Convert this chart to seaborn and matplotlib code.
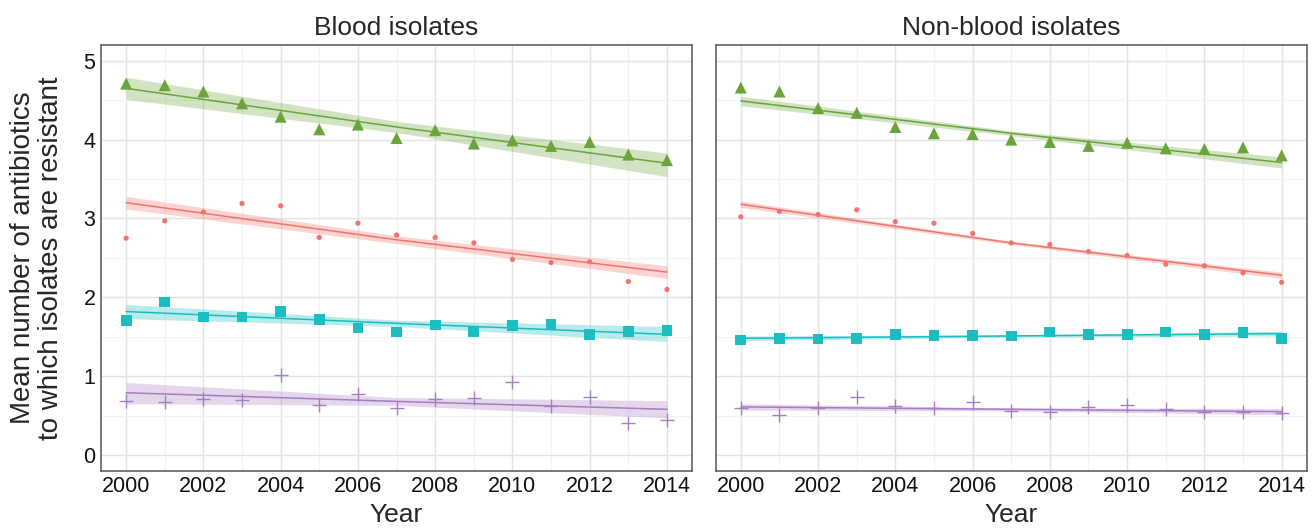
import matplotlib
matplotlib.use("Agg")
import matplotlib.pyplot as plt
import numpy as np
import pandas as pd
import seaborn as sns
from matplotlib.ticker import MultipleLocator

YEARS = list(range(2000, 2015))
GROUPS = ["A", "B", "C", "D"]
COLORS = {"A": "#F2736D", "B": "#6AA43A", "C": "#1CBDC1", "D": "#A87CC2"}
MARKERS = {"A": "o", "B": "^", "C": "s", "D": "+"}
SIZES = {"A": 14, "B": 75, "C": 60, "D": 100}

# mean number of resistant antibiotics, blood isolates
blood_a = [2.75, 2.97, 3.08, 3.19, 3.16, 2.76, 2.94, 2.79, 2.76, 2.69, 2.48, 2.44, 2.45, 2.20, 2.10]
blood_b = [4.71, 4.69, 4.61, 4.46, 4.29, 4.13, 4.19, 4.02, 4.12, 3.95, 3.99, 3.92, 3.97, 3.81, 3.74]
blood_c = [1.71, 1.94, 1.75, 1.75, 1.82, 1.72, 1.61, 1.56, 1.65, 1.57, 1.64, 1.66, 1.53, 1.57, 1.58]
blood_d = [0.68, 0.67, 0.71, 0.70, 1.02, 0.64, 0.78, 0.60, 0.71, 0.72, 0.92, 0.62, 0.73, 0.41, 0.44]

# non-blood isolates
nonblood_a = [3.02, 3.09, 3.05, 3.11, 2.96, 2.94, 2.81, 2.69, 2.67, 2.58, 2.53, 2.42, 2.40, 2.31, 2.19]
nonblood_b = [4.66, 4.61, 4.40, 4.34, 4.16, 4.08, 4.07, 4.00, 3.97, 3.92, 3.96, 3.89, 3.88, 3.90, 3.80]
nonblood_c = [1.46, 1.48, 1.47, 1.48, 1.53, 1.52, 1.52, 1.51, 1.56, 1.53, 1.53, 1.56, 1.53, 1.55, 1.48]
nonblood_d = [0.60, 0.51, 0.60, 0.74, 0.62, 0.60, 0.67, 0.56, 0.55, 0.61, 0.63, 0.58, 0.54, 0.54, 0.53]

# fitted trend (read at 2000, 2007, 2014) with lower / upper band
FIT_YEARS = [2000, 2007, 2014]
blood_fit = {
    "A": ([3.20, 2.73, 2.32], [3.12, 2.68, 2.24], [3.28, 2.78, 2.40]),
    "B": ([4.65, 4.16, 3.70], [4.51, 4.09, 3.53], [4.79, 4.23, 3.83]),
    "C": ([1.82, 1.67, 1.53], [1.73, 1.63, 1.44], [1.91, 1.71, 1.63]),
    "D": ([0.79, 0.68, 0.58], [0.65, 0.63, 0.47], [0.92, 0.73, 0.69]),
}
nonblood_fit = {
    "A": ([3.18, 2.69, 2.28], [3.14, 2.67, 2.24], [3.22, 2.71, 2.32]),
    "B": ([4.49, 4.08, 3.71], [4.43, 4.05, 3.64], [4.55, 4.11, 3.78]),
    "C": ([1.48, 1.51, 1.54], [1.45, 1.495, 1.51], [1.51, 1.525, 1.57]),
    "D": ([0.61, 0.58, 0.55], [0.57, 0.56, 0.51], [0.65, 0.60, 0.59]),
}

PANELS = [
    ("Blood isolates", [blood_a, blood_b, blood_c, blood_d], blood_fit),
    ("Non-blood isolates", [nonblood_a, nonblood_b, nonblood_c, nonblood_d], nonblood_fit),
]


def points_frame(series):
    rows = []
    for g, vals in zip(GROUPS, series):
        for yr, v in zip(YEARS, vals):
            rows.append({"year": yr, "value": v, "group": g})
    return pd.DataFrame(rows)


def fit_frame(fit):
    rows = []
    for g, (mid, lo, hi) in fit.items():
        for yr, m, l, h in zip(FIT_YEARS, mid, lo, hi):
            rows.append({"year": yr, "fit": m, "lo": l, "hi": h, "group": g})
    return pd.DataFrame(rows)


def style_axis(ax, show_y):
    ax.set_xlim(1999.35, 2014.65)
    ax.set_ylim(-0.2, 5.2)
    ax.xaxis.set_major_locator(MultipleLocator(2))
    ax.xaxis.set_minor_locator(MultipleLocator(1))
    ax.yaxis.set_major_locator(MultipleLocator(1))
    ax.yaxis.set_minor_locator(MultipleLocator(0.5))
    ax.grid(True, which="major", color="#E3E3E3", linewidth=1.0)
    ax.grid(True, which="minor", color="#F2F2F2", linewidth=0.8)
    ax.set_axisbelow(True)
    ax.tick_params(axis="both", which="both", length=0, labelsize=15.5, colors="#111111", pad=4)
    if not show_y:
        ax.tick_params(axis="y", labelleft=False)
    for spine in ax.spines.values():
        spine.set_visible(True)
        spine.set_color("#555555")
        spine.set_linewidth(1.1)
    ax.set_xlabel("Year", fontsize=19, labelpad=4)


def main() -> None:
    sns.set_theme(style="whitegrid")
    plt.rcParams["font.family"] = ["Liberation Sans", "DejaVu Sans"]
    fig, axes = plt.subplots(1, 2, figsize=(13.12, 5.29), dpi=100, sharey=True)
    fig.subplots_adjust(left=0.077, right=0.996, top=0.915, bottom=0.11, wspace=0.04)

    for i, (ax, (title, series, fit)) in enumerate(zip(axes, PANELS)):
        pts = points_frame(series)
        fits = fit_frame(fit)
        for g in GROUPS:
            f = fits[fits["group"] == g]
            ax.fill_between(f["year"], f["lo"], f["hi"], color=COLORS[g], alpha=0.3, linewidth=0, zorder=2)
        sns.lineplot(data=fits, x="year", y="fit", hue="group", palette=COLORS, linewidth=1.1,
                     legend=False, ax=ax, zorder=3)
        for g in GROUPS:
            sub = pts[pts["group"] == g]
            sns.scatterplot(data=sub, x="year", y="value", color=COLORS[g], marker=MARKERS[g],
                            s=SIZES[g], linewidth=1.0 if g == "D" else 0, edgecolor=None if g == "D" else "none",
                            legend=False, ax=ax, zorder=4)
        ax.set_title(title, fontsize=19, pad=7)
        style_axis(ax, show_y=(i == 0))
        ax.set_ylabel("")

    axes[0].set_ylabel("Mean number of antibiotics\nto which isolates are resistant", fontsize=20,
                       labelpad=14, linespacing=1.1)
    fig.savefig("out.png", dpi=100, facecolor="white")
    plt.close(fig)


if __name__ == "__main__":
    main()
